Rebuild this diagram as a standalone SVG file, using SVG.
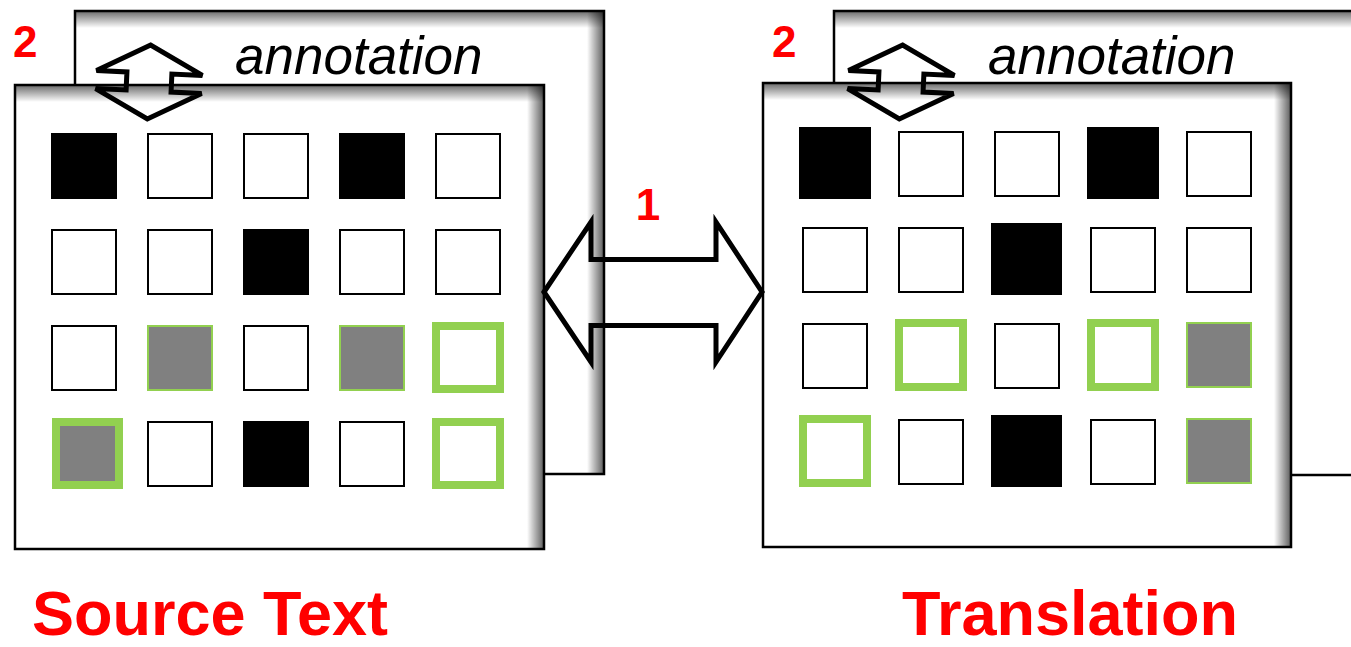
<svg xmlns="http://www.w3.org/2000/svg" width="1351" height="647" viewBox="0 0 1351 647">
<style>
.panel{fill:#fff;stroke:#000;stroke-width:2.5}
.w{fill:#fff;stroke:#000;stroke-width:2}
.b{fill:#000;stroke:none}
.gt{fill:#fff;stroke:#92D050;stroke-width:8}
.gg{fill:#808080;stroke:#92D050;stroke-width:8}
.gs{fill:#808080;stroke:#92D050;stroke-width:2}
.arr{fill:none;stroke:#000;stroke-width:5;stroke-linejoin:miter}
.red{fill:#FF0000;font-family:"Liberation Sans",Arial,sans-serif;font-weight:bold}
.ann{fill:#000;font-family:"Liberation Sans",Arial,sans-serif;font-style:italic}
</style>
<defs>
<linearGradient id="tshade" x1="0" y1="0" x2="0" y2="1">
<stop offset="0" stop-color="#000" stop-opacity="0.55"/>
<stop offset="1" stop-color="#000" stop-opacity="0"/>
</linearGradient>
<linearGradient id="rshade" x1="0" y1="0" x2="1" y2="0">
<stop offset="0" stop-color="#000" stop-opacity="0"/>
<stop offset="1" stop-color="#000" stop-opacity="0.6"/>
</linearGradient>
</defs>
<rect width="1351" height="647" fill="#fff"/>

<g id="source-annotation-layer">
<rect class="panel" x="75" y="11" width="529" height="463"/>
<rect x="76" y="12" width="527" height="16" fill="url(#tshade)"/>
<rect x="587" y="12" width="16" height="461" fill="url(#rshade)"/>
<text class="ann" x="235" y="74" font-size="53">annotation</text>
</g>

<g id="source-text">
<rect class="panel" x="15" y="85" width="529" height="464"/>
<rect x="16" y="86" width="527" height="16" fill="url(#tshade)"/>
<rect x="527" y="86" width="16" height="462" fill="url(#rshade)"/>
<rect class="b" x="51" y="133" width="66" height="66"/>
<rect class="w" x="148" y="134" width="64" height="64"/>
<rect class="w" x="244" y="134" width="64" height="64"/>
<rect class="b" x="339" y="133" width="66" height="66"/>
<rect class="w" x="436" y="134" width="64" height="64"/>

<rect class="w" x="52" y="230" width="64" height="64"/>
<rect class="w" x="148" y="230" width="64" height="64"/>
<rect class="b" x="243" y="229" width="66" height="66"/>
<rect class="w" x="340" y="230" width="64" height="64"/>
<rect class="w" x="436" y="230" width="64" height="64"/>

<rect class="w" x="52" y="326" width="64" height="64"/>
<rect class="gs" x="148" y="326" width="64" height="64"/>
<rect class="w" x="244" y="326" width="64" height="64"/>
<rect class="gs" x="340" y="326" width="64" height="64"/>
<rect class="gt" x="436" y="326" width="64" height="63"/>

<rect class="gg" x="56" y="422" width="63" height="63"/>
<rect class="w" x="148" y="422" width="64" height="64"/>
<rect class="b" x="243" y="421" width="66" height="66"/>
<rect class="w" x="340" y="422" width="64" height="64"/>
<rect class="gt" x="436" y="422" width="64" height="63"/>
</g>

<g id="translation-annotation-layer">
<rect class="panel" x="834" y="11" width="530" height="464"/>
<rect x="835" y="12" width="520" height="16" fill="url(#tshade)"/>
<text class="ann" x="988" y="74" font-size="53">annotation</text>
</g>

<g id="translation">
<rect class="panel" x="763" y="83" width="528" height="464"/>
<rect x="764" y="84" width="526" height="16" fill="url(#tshade)"/>
<rect x="1274" y="84" width="16" height="462" fill="url(#rshade)"/>
<rect class="b" x="799" y="127" width="72" height="72"/>
<rect class="w" x="899" y="132" width="64" height="64"/>
<rect class="w" x="995" y="132" width="64" height="64"/>
<rect class="b" x="1087" y="127" width="72" height="72"/>
<rect class="w" x="1187" y="132" width="64" height="64"/>

<rect class="w" x="803" y="228" width="64" height="64"/>
<rect class="w" x="899" y="228" width="64" height="64"/>
<rect class="b" x="991" y="223" width="71" height="72"/>
<rect class="w" x="1091" y="228" width="64" height="64"/>
<rect class="w" x="1187" y="228" width="64" height="64"/>

<rect class="w" x="803" y="324" width="64" height="64"/>
<rect class="gt" x="899" y="323" width="64" height="64"/>
<rect class="w" x="995" y="324" width="64" height="64"/>
<rect class="gt" x="1091" y="323" width="64" height="64"/>
<rect class="gs" x="1187" y="323" width="64" height="64"/>

<rect class="gt" x="803" y="419" width="64" height="64"/>
<rect class="w" x="899" y="420" width="64" height="64"/>
<rect class="b" x="991" y="415" width="71" height="72"/>
<rect class="w" x="1091" y="420" width="64" height="64"/>
<rect class="gs" x="1187" y="419" width="64" height="64"/>
</g>

<g id="connectors">
<path class="arr" d="M544,292 L591,222 L591,259.5 L716,259.5 L716,222 L762,292 L716,362 L716,325.5 L591,325.5 L591,362 Z"/>
<path class="arr" transform="rotate(2.6 149 82)" d="M149,45 L96,73 L126.5,73 L126.5,91 L96,91 L149,119 L202,91 L171.5,91 L171.5,73 L202,73 Z"/>
<path class="arr" transform="rotate(2.6 901 82)" d="M901,45 L848,73 L878.5,73 L878.5,91 L848,91 L901,119 L954,91 L923.5,91 L923.5,73 L954,73 Z"/>
</g>

<g id="labels">
<text class="red" x="648" y="220" font-size="44" text-anchor="middle">1</text>
<text class="red" x="13" y="57" font-size="44">2</text>
<text class="red" x="772" y="57" font-size="44">2</text>
<text class="red" x="32" y="635" font-size="63">Source Text</text>
<text class="red" x="902" y="635" font-size="63">Translation</text>
</g>
</svg>
